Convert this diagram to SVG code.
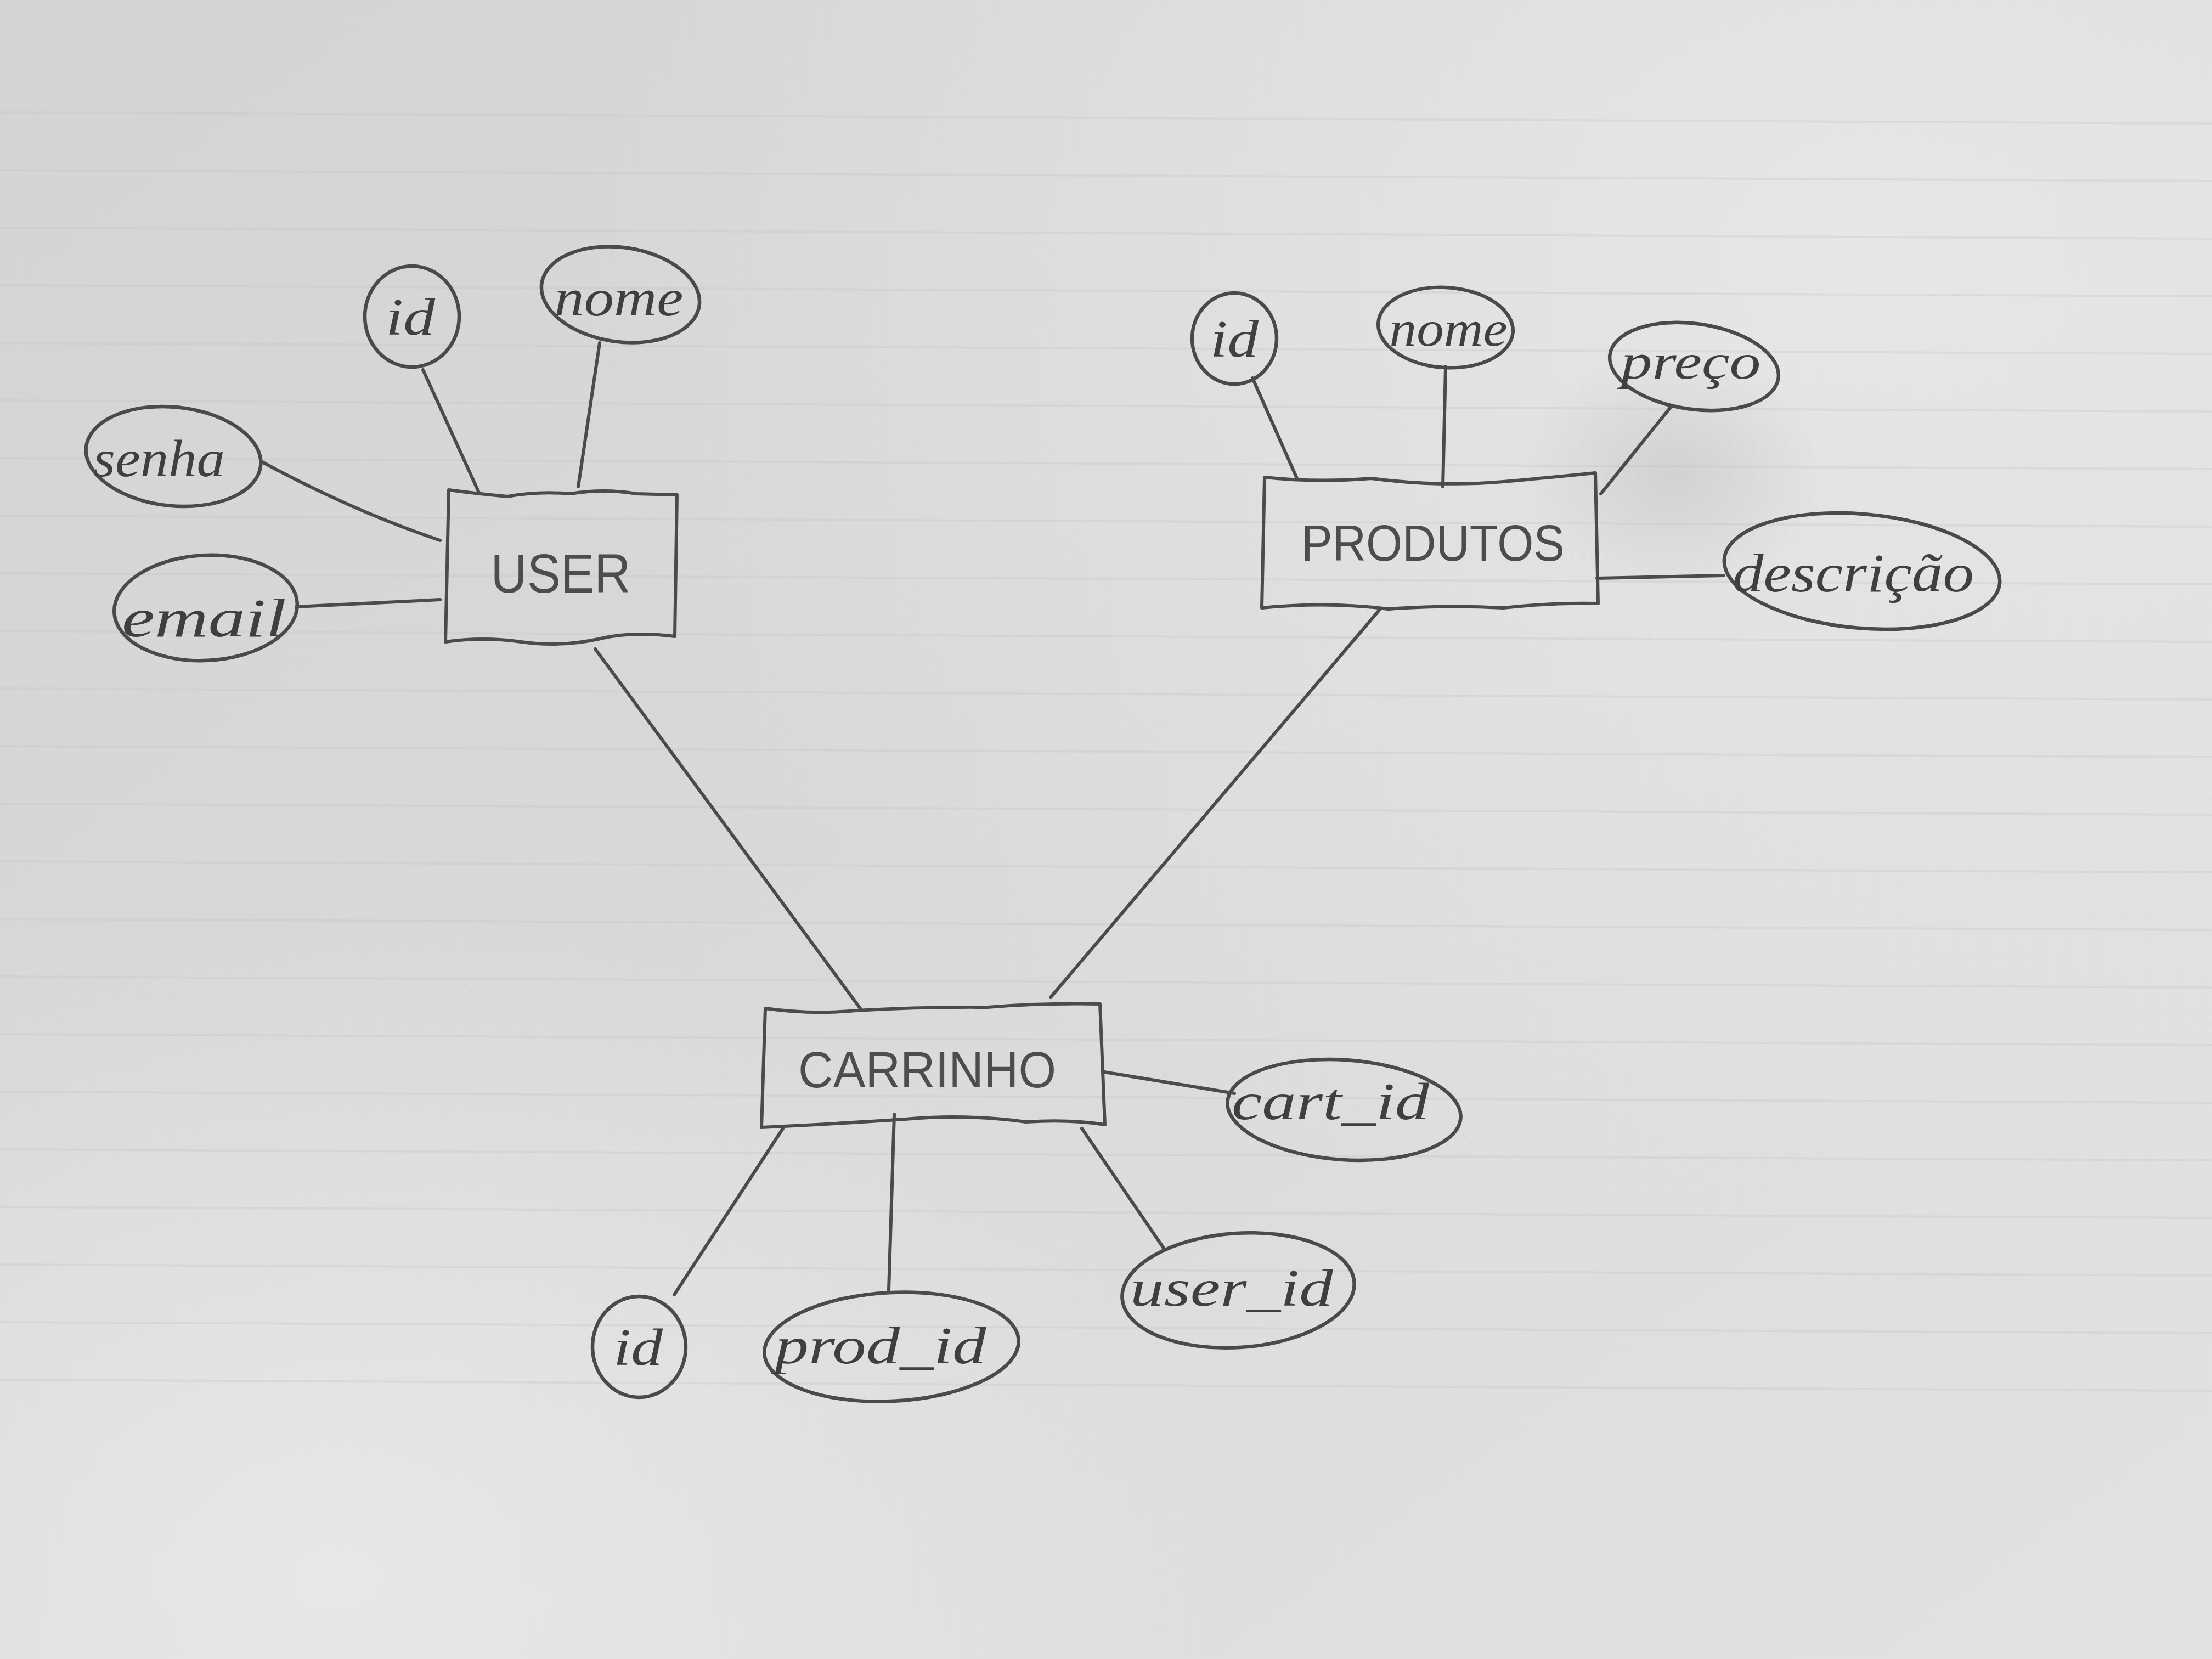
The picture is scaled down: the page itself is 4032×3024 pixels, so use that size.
<svg xmlns="http://www.w3.org/2000/svg" width="4032" height="3024" viewBox="0 0 4032 3024">
  <defs>
    <linearGradient id="paper" x1="0" y1="0" x2="1" y2="1">
      <stop offset="0" stop-color="#d4d4d4"/>
      <stop offset="0.45" stop-color="#d9d9d9"/>
      <stop offset="0.7" stop-color="#dedede"/>
      <stop offset="1" stop-color="#e2e2e2"/>
    </linearGradient>
    <radialGradient id="glow" cx="0.85" cy="0.15" r="0.6">
      <stop offset="0" stop-color="#e8e8e8" stop-opacity="0.9"/>
      <stop offset="1" stop-color="#e8e8e8" stop-opacity="0"/>
    </radialGradient>
    <radialGradient id="glow2" cx="0.15" cy="0.95" r="0.4">
      <stop offset="0" stop-color="#e9e9e9" stop-opacity="0.9"/>
      <stop offset="1" stop-color="#e9e9e9" stop-opacity="0"/>
    </radialGradient>
    <radialGradient id="smudge" cx="0.5" cy="0.5" r="0.5">
      <stop offset="0" stop-color="#a8a8a8" stop-opacity="0.3"/>
      <stop offset="1" stop-color="#a8a8a8" stop-opacity="0"/>
    </radialGradient>
  </defs>
  <style>
    .pen { fill: none; stroke: #4b4b4b; stroke-width: 6; stroke-linecap: round; stroke-linejoin: round; }
    .attr { fill: none; stroke: #4a4a4a; stroke-width: 6.5; }
    .rule { stroke: #c4c4c4; stroke-width: 4; }
    .ent { font-family: "Liberation Sans", "DejaVu Sans", sans-serif; fill: #4d4d4d; text-anchor: middle; }
    .lbl { font-family: "Liberation Serif", "DejaVu Serif", serif; font-style: italic; fill: #3f3f3f; text-anchor: middle; }
  </style>

  <!-- paper -->
  <rect x="0" y="0" width="4032" height="3024" fill="url(#paper)"/>
  <rect x="0" y="0" width="4032" height="3024" fill="url(#glow)"/>
  <rect x="0" y="0" width="4032" height="3024" fill="url(#glow2)"/>
  <ellipse cx="3050" cy="860" rx="280" ry="220" fill="url(#smudge)"/>

  <!-- ruled lines -->
  <g opacity="0.3">
    <line class="rule" x1="0" y1="205" x2="4032" y2="225"/>
    <line class="rule" x1="0" y1="310" x2="4032" y2="330"/>
    <line class="rule" x1="0" y1="415" x2="4032" y2="435"/>
    <line class="rule" x1="0" y1="520" x2="4032" y2="540"/>
    <line class="rule" x1="0" y1="625" x2="4032" y2="645"/>
    <line class="rule" x1="0" y1="730" x2="4032" y2="750"/>
    <line class="rule" x1="0" y1="835" x2="4032" y2="855"/>
    <line class="rule" x1="0" y1="940" x2="4032" y2="960"/>
    <line class="rule" x1="0" y1="1045" x2="4032" y2="1065"/>
    <line class="rule" x1="0" y1="1150" x2="4032" y2="1170"/>
    <line class="rule" x1="0" y1="1255" x2="4032" y2="1275"/>
    <line class="rule" x1="0" y1="1360" x2="4032" y2="1380"/>
    <line class="rule" x1="0" y1="1465" x2="4032" y2="1485"/>
    <line class="rule" x1="0" y1="1570" x2="4032" y2="1590"/>
    <line class="rule" x1="0" y1="1675" x2="4032" y2="1695"/>
    <line class="rule" x1="0" y1="1780" x2="4032" y2="1800"/>
    <line class="rule" x1="0" y1="1885" x2="4032" y2="1905"/>
    <line class="rule" x1="0" y1="1990" x2="4032" y2="2010"/>
    <line class="rule" x1="0" y1="2095" x2="4032" y2="2115"/>
    <line class="rule" x1="0" y1="2200" x2="4032" y2="2220"/>
    <line class="rule" x1="0" y1="2305" x2="4032" y2="2325"/>
    <line class="rule" x1="0" y1="2410" x2="4032" y2="2430"/>
    <line class="rule" x1="0" y1="2515" x2="4032" y2="2535"/>
  </g>

  <!-- connectors -->
  <g id="connectors" class="pen">
    <path d="M771,674 L874,900"/>
    <path d="M1093,625 L1054,887"/>
    <path d="M476,841 Q640,930 802,985"/>
    <path d="M540,1106 L802,1093"/>
    <path d="M1085,1183 L1568,1838"/>
    <path d="M2283,689 L2365,874"/>
    <path d="M2635,668 L2630,887"/>
    <path d="M3047,740 L2918,900"/>
    <path d="M2911,1054 L3142,1049"/>
    <path d="M2515,1111 L1915,1818"/>
    <path d="M2013,1954 L2250,1993"/>
    <path d="M1972,2057 L2121,2275"/>
    <path d="M1630,2031 L1620,2352"/>
    <path d="M1427,2057 L1229,2360"/>
  </g>

  <!-- USER entity -->
  <g id="user">
    <path class="pen" d="M818,893 Q870,900 925,905 Q980,895 1040,900 Q1100,890 1160,900 L1234,902 L1230,1160 Q1150,1150 1090,1165 Q1020,1180 950,1170 Q880,1160 812,1170 L818,893 Z"/>
    <text class="ent" x="1022" y="1080" font-size="100" textLength="255" lengthAdjust="spacingAndGlyphs">USER</text>
  </g>
  <g id="user_id">
    <ellipse class="attr" cx="751" cy="577" rx="86" ry="92"/>
    <text class="lbl" x="748" y="610" font-size="95" textLength="90" lengthAdjust="spacingAndGlyphs">id</text>
  </g>
  <g id="user_nome">
    <ellipse class="attr" cx="1131" cy="537" rx="145" ry="86" transform="rotate(8 1131 537)"/>
    <text class="lbl" x="1128" y="575" font-size="95" textLength="235" lengthAdjust="spacingAndGlyphs">nome</text>
  </g>
  <g id="user_senha">
    <ellipse class="attr" cx="316" cy="832" rx="160" ry="90" transform="rotate(6 316 832)"/>
    <text class="lbl" x="290" y="868" font-size="95" textLength="240" lengthAdjust="spacingAndGlyphs">senha</text>
  </g>
  <g id="user_email">
    <ellipse class="attr" cx="375" cy="1108" rx="167" ry="96" transform="rotate(-3 375 1108)"/>
    <text class="lbl" x="372" y="1160" font-size="100" textLength="300" lengthAdjust="spacingAndGlyphs">email</text>
  </g>

  <!-- PRODUTOS entity -->
  <g id="produtos">
    <path class="pen" d="M2305,870 Q2400,880 2500,872 Q2620,888 2740,878 Q2830,870 2908,862 L2913,1100 Q2830,1098 2740,1108 Q2640,1102 2530,1110 Q2420,1096 2300,1108 L2305,870 Z"/>
    <text class="ent" x="2612" y="1022" font-size="92" textLength="480" lengthAdjust="spacingAndGlyphs">PRODUTOS</text>
  </g>
  <g id="produtos_id">
    <ellipse class="attr" cx="2250" cy="617" rx="77" ry="83"/>
    <text class="lbl" x="2250" y="650" font-size="95" textLength="88" lengthAdjust="spacingAndGlyphs">id</text>
  </g>
  <g id="produtos_nome">
    <ellipse class="attr" cx="2635" cy="597" rx="123" ry="73" transform="rotate(4 2635 597)"/>
    <text class="lbl" x="2640" y="630" font-size="92" textLength="215" lengthAdjust="spacingAndGlyphs">nome</text>
  </g>
  <g id="produtos_preco">
    <ellipse class="attr" cx="3088" cy="668" rx="155" ry="78" transform="rotate(8 3088 668)"/>
    <text class="lbl" x="3082" y="690" font-size="92" textLength="255" lengthAdjust="spacingAndGlyphs">preço</text>
  </g>
  <g id="produtos_descricao">
    <ellipse class="attr" cx="3394" cy="1041" rx="252" ry="104" transform="rotate(5 3394 1041)"/>
    <text class="lbl" x="3378" y="1078" font-size="100" textLength="440" lengthAdjust="spacingAndGlyphs">descrição</text>
  </g>

  <!-- CARRINHO entity -->
  <g id="carrinho">
    <path class="pen" d="M1395,1838 Q1480,1850 1560,1842 Q1680,1835 1800,1836 Q1900,1828 2005,1830 L2014,2050 Q1950,2040 1870,2045 Q1760,2030 1650,2040 Q1530,2048 1388,2055 L1395,1838 Z"/>
    <text class="ent" x="1690" y="1982" font-size="92" textLength="470" lengthAdjust="spacingAndGlyphs">CARRINHO</text>
  </g>
  <g id="carrinho_cart_id">
    <ellipse class="attr" cx="2450" cy="2023" rx="213" ry="91" transform="rotate(4 2450 2023)"/>
    <text class="lbl" x="2425" y="2040" font-size="95" textLength="360" lengthAdjust="spacingAndGlyphs">cart_id</text>
  </g>
  <g id="carrinho_user_id">
    <ellipse class="attr" cx="2257" cy="2352" rx="212" ry="104" transform="rotate(-4 2257 2352)"/>
    <text class="lbl" x="2245" y="2380" font-size="95" textLength="370" lengthAdjust="spacingAndGlyphs">user_id</text>
  </g>
  <g id="carrinho_prod_id">
    <ellipse class="attr" cx="1625" cy="2455" rx="232" ry="99" transform="rotate(-3 1625 2455)"/>
    <text class="lbl" x="1605" y="2485" font-size="95" textLength="385" lengthAdjust="spacingAndGlyphs">prod_id</text>
  </g>
  <g id="carrinho_id">
    <ellipse class="attr" cx="1165" cy="2455" rx="85" ry="92"/>
    <text class="lbl" x="1163" y="2488" font-size="95" textLength="90" lengthAdjust="spacingAndGlyphs">id</text>
  </g>
</svg>
